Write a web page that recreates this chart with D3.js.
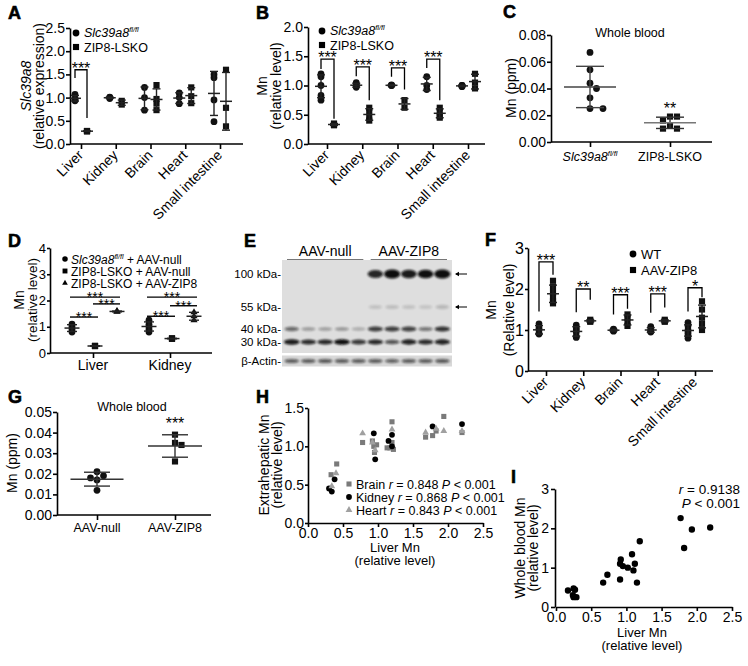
<!DOCTYPE html>
<html><head><meta charset="utf-8">
<script src="https://cdn.jsdelivr.net/npm/d3@7"></script>
<style>body{margin:0;background:#fff}</style>
</head><body><svg id="fig" width="748" height="666"></svg>
<script>
// ---------------- DATA ----------------
const tissues = ["Liver", "Kidney", "Brain", "Heart", "Small intestine"];

// Panel A: Slc39a8 relative expression
const aFlox = [[1.07, 0.97, 0.93, 0.97], [1.0, 0.98, 1.01], [1.22, 1.0, 0.73], [1.1, 1.0, 0.87], [1.5, 1.43, 0.95, 0.48]];
const aLsko = [[0.28, 0.27, 0.28], [0.93, 0.85], [1.27, 0.97, 0.87, 0.73], [1.22, 1.03, 0.88], [1.6, 0.78, 0.38]];
const aSig = [{cat: "Liver", top: 1.6, left: 1.42, right: 0.56, label: "***"}];

// Panel B: Mn relative level
const bFlox = [[1.2, 1.15, 1.0, 0.83, 0.75], [1.05, 1.0, 0.97, 1.0], [1.0, 1.0, 1.01], [1.15, 1.0, 0.93], [1.0, 0.98, 1.0]];
const bLsko = [[0.35, 0.32, 0.33], [0.62, 0.55, 0.45, 0.4], [0.75, 0.62], [0.62, 0.55, 0.48, 0.45], [1.2, 1.05, 0.95]];
const bSig = [
  {cat: "Liver", top: 1.45, left: 1.28, right: 0.43, label: "***"},
  {cat: "Kidney", top: 1.32, left: 1.16, right: 0.75, label: "***"},
  {cat: "Brain", top: 1.30, left: 1.15, right: 0.93, label: "***"},
  {cat: "Heart", top: 1.45, left: 1.30, right: 0.75, label: "***"}
];

// Panel C: whole blood Mn (ppm)
const cGroups = ["Slc39a8", "ZIP8-LSKO"];
const cFlox = [0.067, 0.054, 0.044, 0.040, 0.033, 0.025, 0.025];
const cLsko = [0.019, 0.019, 0.016, 0.012, 0.010, 0.010];

// Panel D
const dTissues = ["Liver", "Kidney"];
const dFloxNull = [[1.1, 1.0, 0.9, 0.8], [1.25, 1.1, 1.0, 0.9, 0.8]];
const dLskoNull = [[0.27, 0.27, 0.26], [0.55, 0.54, 0.56]];
const dLskoZip8 = [[1.58, 1.6, 1.57], [1.55, 1.4, 1.25]];
const dSig = [
  {cat: "Liver", a: 0, b: 2, v: 2.13}, {cat: "Liver", a: 0, b: 1, v: 1.37}, {cat: "Liver", a: 1, b: 2, v: 1.87},
  {cat: "Kidney", a: 0, b: 2, v: 2.13}, {cat: "Kidney", a: 0, b: 1, v: 1.40}, {cat: "Kidney", a: 1, b: 2, v: 1.80}
];

// Panel E: western blot band intensities (10 lanes)
const blotGroups = ["AAV-null", "AAV-ZIP8"];
const blotMarkers = ["100 kDa", "55 kDa", "40 kDa", "30 kDa"];
const band100 = [0, 0, 0, 0, 0, 0.8, 1.0, 0.85, 0.9, 1.0];
const band55 = [0, 0, 0, 0, 0, 0.12, 0.14, 0.12, 0.11, 0.16];
const band40 = [0.5, 0.3, 0.28, 0.32, 0.22, 0.7, 0.7, 0.68, 0.45, 0.75];
const band30 = [0.85, 0.78, 0.8, 0.92, 0.72, 0.8, 0.6, 0.82, 0.78, 0.82];
const bandActin = [0.55, 0.55, 0.57, 0.55, 0.55, 0.55, 0.53, 0.55, 0.55, 0.57];

// Panel F
const fWT = [[1.15, 1.05, 1.0, 0.92, 0.9], [1.12, 1.0, 0.95, 0.85, 0.82, 1.05], [1.02, 1.0, 0.97, 0.99], [1.08, 1.0, 0.95, 0.97], [1.18, 1.1, 1.0, 0.9, 0.8, 0.95]];
const fAAV = [[2.2, 2.05, 1.9, 1.8, 1.7, 1.65], [1.25, 1.2, 1.22], [1.38, 1.3, 1.2, 1.1], [1.25, 1.2, 1.22], [1.7, 1.5, 1.3, 1.15, 1.0]];
const fSig = [
  {cat: "Liver", top: 2.66, left: 1.45, right: 2.35, label: "***"},
  {cat: "Kidney", top: 2.0, left: 1.43, right: 1.74, label: "**"},
  {cat: "Brain", top: 1.86, left: 1.38, right: 1.52, label: "***"},
  {cat: "Heart", top: 1.88, left: 1.42, right: 1.55, label: "***"},
  {cat: "Small intestine", top: 2.03, left: 1.45, right: 1.8, label: "*"}
];

// Panel G
const gGroups = ["AAV-null", "AAV-ZIP8"];
const gNull = [0.021, 0.019, 0.018, 0.017, 0.012];
const gZip8 = [0.039, 0.035, 0.034, 0.026];

// Panel H
const hBrainX = [0.33, 0.41, 0.78, 0.92, 0.94, 0.95, 0.98, 1.13, 1.17, 1.2, 1.2, 1.22, 1.68, 1.78, 1.83, 1.94, 2.2];
const hBrainY = [0.63, 0.77, 1.05, 1.07, 1.0, 0.92, 1.02, 0.98, 0.98, 1.32, 1.05, 0.96, 1.12, 1.14, 1.2, 1.39, 1.18];
const hKidneyX = [0.30, 0.34, 0.38, 0.94, 0.96, 1.15, 1.2, 1.2, 1.78, 2.2];
const hKidneyY = [0.45, 0.41, 0.57, 1.17, 0.83, 1.07, 1.15, 1.0, 1.26, 1.29];
const hHeartX = [0.34, 0.40, 0.78, 0.96, 0.92, 1.2, 1.68, 1.83, 1.94, 2.2];
const hHeartY = [0.48, 0.65, 1.17, 0.95, 1.05, 1.22, 1.18, 1.23, 1.2, 1.2];
const hStats = [["Brain", "0.848"], ["Kidney", "0.868"], ["Heart", "0.843"]];

// Panel I
const iX = [0.17, 0.25, 0.27, 0.24, 0.25, 0.29, 0.67, 0.73, 0.91, 0.92, 0.91, 0.95, 1.02, 1.08, 1.10, 1.12, 1.15, 1.19, 1.77, 1.82, 1.93, 2.19];
const iY = [0.42, 0.47, 0.44, 0.30, 0.25, 0.25, 0.62, 0.82, 0.70, 1.21, 1.10, 1.04, 1.00, 1.34, 0.93, 1.10, 0.62, 1.67, 2.26, 1.50, 1.97, 2.02];
const iStats = ["0.9138", "0.001"];

// ---------------- DRAWING ----------------
const FONT = "'Liberation Sans', Arial, Helvetica, sans-serif";
const svg = d3.select("#fig");
svg.append("rect").attr("width", 748).attr("height", 666).attr("fill", "#fff");
const defs = svg.append("defs");
const blur = defs.append("filter").attr("id", "blur").attr("x", "-50%").attr("y", "-200%").attr("width", "200%").attr("height", "500%");
blur.append("feGaussianBlur").attr("stdDeviation", 1.1);

function txt(parent, x, y, s, o = {}) {
  const t = parent.append("text").attr("x", x).attr("y", y).text(s)
    .attr("font-family", FONT).attr("font-size", o.size || 13).attr("fill", o.fill || "#000")
    .attr("text-anchor", o.anchor || "start");
  if (o.weight) t.attr("font-weight", o.weight);
  if (o.italic) t.attr("font-style", "italic");
  if (o.rotate) t.attr("transform", `rotate(${o.rotate},${x},${y})`);
  return t;
}
function floxText(parent, x, y, suffix, o = {}) {
  const t = txt(parent, x, y, "", o);
  t.append("tspan").attr("font-style", "italic").text("Slc39a8");
  t.append("tspan").attr("font-style", "italic").attr("font-size", (o.size || 13) * 0.6).attr("dy", -5).text("fl/fl");
  if (suffix) t.append("tspan").attr("dy", 5).text(suffix);
  return t;
}
function sym(shape, size) {
  const type = shape === "circle" ? d3.symbolCircle : shape === "square" ? d3.symbolSquare : d3.symbolTriangle;
  return d3.symbol().type(type).size(size)();
}
const symSize = {circle: 36, square: 38, triangle: 22};
function styleAxis(g, fs) {
  g.select(".domain").attr("stroke", "#000").attr("stroke-width", 1.6);
  g.selectAll(".tick line").attr("stroke", "#000").attr("stroke-width", 1.6);
  g.selectAll(".tick text").attr("font-family", FONT).attr("font-size", fs || 14).attr("fill", "#000");
}
function panelLetter(x, y, s) {
  txt(svg, x, y, s, {size: 18, weight: "bold"}).attr("stroke", "#000").attr("stroke-width", 0.6);
}
function swarm(vals, y, cx, r, step) {
  const placed = [];
  vals.slice().sort((a, b) => b - a).forEach(v => {
    const py = y(v);
    for (const dx of [0, step, -step, 2 * step, -2 * step]) {
      const px = cx + dx;
      if (placed.every(p => Math.hypot(p[0] - px, p[1] - py) >= 2 * r)) { placed.push([px, py]); break; }
    }
  });
  return placed;
}
function errorBar(g, cx, y, vals, meanW, cap, color, meanColor) {
  const m = d3.mean(vals), sd = d3.deviation(vals) || 0;
  g.append("line").attr("x1", cx).attr("x2", cx).attr("y1", y(m - sd)).attr("y2", y(m + sd)).attr("stroke", color).attr("stroke-width", 1.4);
  [m - sd, m + sd].forEach(v => g.append("line").attr("x1", cx - cap).attr("x2", cx + cap).attr("y1", y(v)).attr("y2", y(v)).attr("stroke", color).attr("stroke-width", 1.4));
  g.append("line").attr("x1", cx - meanW).attr("x2", cx + meanW).attr("y1", y(m)).attr("y2", y(m)).attr("stroke", meanColor || color).attr("stroke-width", 1.5);
  return {m, sd};
}

function dotPanel(c) {
  const g = svg.append("g");
  const y = d3.scaleLinear().domain(c.domain).range([c.yBot, c.yTop]);
  const x = d3.scalePoint().domain(c.cats).range(c.catRange);
  g.append("g").attr("transform", `translate(${c.x0},0)`)
    .call(d3.axisLeft(y).tickValues(c.ticks).tickFormat(d3.format(c.fmt)).tickSize(c.tickLen || 4).tickSizeOuter(0).tickPadding(1))
    .call(a => styleAxis(a, c.tickFs));
  const xa = g.append("g").attr("transform", `translate(0,${c.yBot})`)
    .call(d3.axisBottom(x).tickSize(5).tickSizeOuter(0).tickFormat(""))
    .call(a => styleAxis(a));
  xa.select(".domain").remove();
  g.append("line").attr("x1", c.x0).attr("x2", c.x1).attr("y1", c.yBot).attr("y2", c.yBot)
    .attr("stroke", "#000").attr("stroke-width", 1.6);
  if (c.rotate) {
    c.cats.forEach(cat => txt(g, x(cat) + 3, c.yBot + 12, cat, {anchor: "end", rotate: -45, size: 14}));
  } else if (c.labelFn) {
    c.cats.forEach(cat => c.labelFn(g, x(cat), c.yBot + 19, cat));
  }
  c.groups.forEach(gr => {
    gr.data.forEach((vals, i) => {
      if (!vals.length) return;
      const cx = x(c.cats[i]) + gr.dx;
      const pts = c.swarm ? swarm(vals, y, cx, 3.3, c.swarm) : vals.map(v => [cx, y(v)]);
      g.selectAll(null).data(pts).join("path")
        .attr("d", sym(gr.shape, symSize[gr.shape]))
        .attr("transform", p => `translate(${p[0]},${p[1]})`).attr("fill", "#111");
      errorBar(g, cx, y, vals, c.meanW, c.cap, c.errColor || "#222");
    });
  });
  (c.brackets || []).forEach(b => {
    const xl = x(b.cat) + c.groups[0].dx, xr = x(b.cat) + c.groups[1].dx;
    g.append("path").attr("d", `M${xl},${y(b.left)}V${y(b.top)}H${xr}V${y(b.right)}`)
      .attr("fill", "none").attr("stroke", "#000").attr("stroke-width", 1.3);
    txt(g, (xl + xr) / 2, y(b.top) + 4, b.label, {anchor: "middle", size: 16});
  });
  return {g, x, y};
}

// ---- Panel A ----
panelLetter(8, 19, "A");
const A = dotPanel({x0: 70, x1: 243, yTop: 28, yBot: 144, domain: [0, 2.5], ticks: [0, 0.5, 1, 1.5, 2, 2.5], fmt: ".1f",
  cats: tissues, catRange: [81, 220], rotate: true, meanW: 6, cap: 4,
  groups: [{data: aFlox, shape: "circle", dx: -6}, {data: aLsko, shape: "square", dx: 6}], brackets: aSig});
txt(svg, 31, 86, "", {anchor: "middle", rotate: -90, size: 14}).append("tspan").attr("font-style", "italic").text("Slc39a8");
txt(svg, 44, 86, "(relative expression)", {anchor: "middle", rotate: -90, size: 14});
A.g.append("path").attr("d", sym("circle", 36)).attr("transform", "translate(76,33)");
floxText(A.g, 84, 37, null, {size: 12.5});
A.g.append("path").attr("d", sym("square", 38)).attr("transform", "translate(76,47)");
txt(A.g, 84, 52, "ZIP8-LSKO", {size: 12.5});

// ---- Panel B ----
panelLetter(256, 19, "B");
const B = dotPanel({x0: 308, x1: 485, yTop: 27, yBot: 144, domain: [0, 2], ticks: [0, 0.5, 1, 1.5, 2], fmt: ".1f",
  cats: tissues, catRange: [327, 468], rotate: true, meanW: 6, cap: 4,
  groups: [{data: bFlox, shape: "circle", dx: -6}, {data: bLsko, shape: "square", dx: 7}], brackets: bSig});
txt(svg, 267, 86, "Mn", {anchor: "middle", rotate: -90, size: 14});
txt(svg, 281, 86, "(relative level)", {anchor: "middle", rotate: -90, size: 14});
B.g.append("path").attr("d", sym("circle", 36)).attr("transform", "translate(322,31)");
floxText(B.g, 330, 35, null, {size: 12.5});
B.g.append("path").attr("d", sym("square", 38)).attr("transform", "translate(322,45)");
txt(B.g, 330, 50, "ZIP8-LSKO", {size: 12.5});

// ---- Panel C ----
panelLetter(503, 18, "C");
const C = dotPanel({x0: 551, x1: 712, yTop: 35, yBot: 142, domain: [0, 0.08], ticks: [0, 0.02, 0.04, 0.06, 0.08], fmt: ".2f",
  cats: cGroups, catRange: [590, 670], meanW: 26, cap: 14, swarm: 6.5, errColor: "#444",
  labelFn: (g, x, y, cat) => cat === "Slc39a8" ? floxText(g, x, y, null, {anchor: "middle", size: 12.5}) : txt(g, x, y, cat, {anchor: "middle", size: 12.5}),
  groups: [{data: [cFlox, []], shape: "circle", dx: 0}]});
(function () {
  const cx = C.x("ZIP8-LSKO");
  const pts = swarm(cLsko, C.y, cx, 3.3, 7);
  C.g.selectAll(null).data(pts).join("path").attr("d", sym("square", 38)).attr("transform", p => `translate(${p[0]},${p[1]})`).attr("fill", "#111");
  const s = errorBar(C.g, cx, C.y, cLsko, 26, 14, "#333", "#777");
  txt(C.g, cx, C.y(s.m + s.sd) - 3, "**", {anchor: "middle", size: 16});
})();
txt(svg, 630, 37, "Whole blood", {anchor: "middle", size: 12.5});
txt(svg, 516, 88, "Mn (ppm)", {anchor: "middle", rotate: -90, size: 14});

// ---- Panel D ----
panelLetter(8, 247, "D");
const D = dotPanel({x0: 50, x1: 212, yTop: 248, yBot: 353, domain: [0, 4], ticks: [0, 1, 2, 3, 4], fmt: "d", tickFs: 13, tickLen: 3,
  cats: dTissues, catRange: [93, 170], meanW: 7.5, cap: 5,
  labelFn: (g, x, y, cat) => txt(g, x, y - 2, cat, {anchor: "middle", size: 14}),
  groups: [{data: dFloxNull, shape: "circle", dx: -21}, {data: dLskoNull, shape: "square", dx: 2}, {data: dLskoZip8, shape: "triangle", dx: 24}]});
(function () {
  const dxs = [-21, 2, 24];
  dSig.forEach(s => {
    const xa = D.x(s.cat) + dxs[s.a] - 2, xb = D.x(s.cat) + dxs[s.b] + 3;
    D.g.append("line").attr("x1", xa).attr("x2", xb).attr("y1", D.y(s.v)).attr("y2", D.y(s.v)).attr("stroke", "#000").attr("stroke-width", 1.4);
    txt(D.g, (xa + xb) / 2, D.y(s.v) + 5, "***", {anchor: "middle", size: 14});
  });
  const items = [["circle", null], ["square", "ZIP8-LSKO + AAV-null"], ["triangle", "ZIP8-LSKO + AAV-ZIP8"]];
  items.forEach((it, i) => {
    const yy = 259 + i * 12;
    D.g.append("path").attr("d", sym(it[0], it[0] === "triangle" ? 14 : 24)).attr("transform", `translate(65,${yy})`);
    if (it[1]) txt(D.g, 71, yy + 4.5, it[1], {size: 12});
    else floxText(D.g, 71, yy + 4.5, " + AAV-null", {size: 12});
  });
})();
txt(svg, 24, 300, "Mn", {anchor: "middle", rotate: -90, size: 14});
txt(svg, 37, 300, "(relative level)", {anchor: "middle", rotate: -90, size: 13.5});

// ---- Panel E (western blot) ----
panelLetter(244, 247, "E");
(function () {
  const g = svg.append("g");
  const lane = d3.scaleBand().domain(d3.range(10)).range([284, 450]).paddingInner(0.08);
  const bx0 = 282, bx1 = 452;
  g.append("rect").attr("x", bx0).attr("y", 260).attr("width", bx1 - bx0).attr("height", 93).attr("fill", "#dedede");
  g.append("rect").attr("x", bx0).attr("y", 355.5).attr("width", bx1 - bx0).attr("height", 11).attr("fill", "#d8d8d8");
  const rows = [
    {vals: band100, y: 274, h: 7, label: blotMarkers[0]},
    {vals: band55, y: 307, h: 6, label: blotMarkers[1]},
    {vals: band40, y: 329, h: 4.5, label: blotMarkers[2]},
    {vals: band30, y: 342, h: 4.5, label: blotMarkers[3]},
    {vals: bandActin, y: 361, h: 4, label: "β-Actin"}
  ];
  rows.forEach(r => {
    r.vals.forEach((v, i) => {
      if (v <= 0) return;
      g.append("ellipse").attr("cx", lane(i) + lane.bandwidth() / 2).attr("cy", r.y)
        .attr("rx", lane.bandwidth() / 2 * (0.85 + 0.2 * v)).attr("ry", r.h / 2 * (0.6 + 0.7 * v))
        .attr("fill", "#0a0a0a").attr("opacity", Math.min(1, 1.1 * v)).attr("filter", "url(#blur)");
    });
    txt(g, 281, r.y + 4, r.label + "-", {anchor: "end", size: 11.5});
  });
  const halves = [[0, 4], [5, 9]];
  blotGroups.forEach((name, k) => {
    const xa = lane(halves[k][0]) + 3, xb = lane(halves[k][1]) + lane.bandwidth() - 3;
    txt(g, (xa + xb) / 2, 256, name, {anchor: "middle", size: 14});
    g.append("line").attr("x1", xa).attr("x2", xb).attr("y1", 259.5).attr("y2", 259.5).attr("stroke", "#777").attr("stroke-width", 1.2);
  });
  [274, 307].forEach(yy => {
    g.append("line").attr("x1", 456).attr("x2", 467).attr("y1", yy).attr("y2", yy).attr("stroke", "#000").attr("stroke-width", 1);
    g.append("path").attr("d", `M455,${yy}l4,-2.2v4.4z`).attr("fill", "#000");
  });
})();

// ---- Panel F ----
panelLetter(485, 246, "F");
const F = dotPanel({x0: 528, x1: 713, yTop: 248, yBot: 371, domain: [0, 3], ticks: [0, 1, 2, 3], fmt: "d", tickLen: 3,
  cats: tissues, catRange: [546, 695], rotate: true, meanW: 6, cap: 4, tickFs: 16,
  groups: [{data: fWT, shape: "circle", dx: -7}, {data: fAAV, shape: "square", dx: 7}], brackets: fSig});
txt(svg, 496, 310, "Mn", {anchor: "middle", rotate: -90, size: 14});
txt(svg, 514, 310, "(Relative level)", {anchor: "middle", rotate: -90, size: 14});
F.g.append("path").attr("d", sym("circle", 36)).attr("transform", "translate(633,254)");
txt(F.g, 641, 259, "WT", {size: 13});
F.g.append("path").attr("d", sym("square", 38)).attr("transform", "translate(633,270)");
txt(F.g, 641, 275, "AAV-ZIP8", {size: 13});

// ---- Panel G ----
panelLetter(8, 403, "G");
const G = dotPanel({x0: 57, x1: 211, yTop: 412, yBot: 515, domain: [0, 0.05], ticks: [0, 0.01, 0.02, 0.03, 0.04, 0.05], fmt: ".2f",
  cats: gGroups, catRange: [97, 175], meanW: 26.5, cap: 13, swarm: 6.5, errColor: "#333",
  labelFn: (g, x, y, cat) => txt(g, x, y - 2, cat, {anchor: "middle", size: 12.5}),
  groups: [{data: [gNull, []], shape: "circle", dx: 0}]});
(function () {
  const cx = G.x("AAV-ZIP8");
  const pts = swarm(gZip8, G.y, cx, 3.3, 6.5);
  G.g.selectAll(null).data(pts).join("path").attr("d", sym("square", 38)).attr("transform", p => `translate(${p[0]},${p[1]})`).attr("fill", "#111");
  const s = errorBar(G.g, cx, G.y, gZip8, 27, 13, "#333");
  txt(G.g, cx, G.y(s.m + s.sd) - 6, "***", {anchor: "middle", size: 16});
})();
txt(svg, 132, 411, "Whole blood", {anchor: "middle", size: 12.5});
txt(svg, 17, 463, "Mn (ppm)", {anchor: "middle", rotate: -90, size: 14});

// ---- Panel H ----
panelLetter(256, 403, "H");
(function () {
  const g = svg.append("g");
  const x = d3.scaleLinear().domain([0, 2.5]).range([308, 483]);
  const y = d3.scaleLinear().domain([0, 1.5]).range([523, 408]);
  g.append("g").attr("transform", "translate(308,0)").call(d3.axisLeft(y).tickValues([0, 0.5, 1, 1.5]).tickFormat(d3.format(".1f")).tickSize(3).tickSizeOuter(0).tickPadding(1)).call(a => styleAxis(a, 14));
  g.append("g").attr("transform", "translate(0,523)").call(d3.axisBottom(x).tickValues([0, 0.5, 1, 1.5, 2, 2.5]).tickFormat(d3.format(".1f")).tickSize(4).tickSizeOuter(0).tickPadding(1)).call(a => styleAxis(a, 14));
  const series = [
    {xs: hBrainX, ys: hBrainY, shape: "square", size: 26, fill: "#7a7a7a"},
    {xs: hKidneyX, ys: hKidneyY, shape: "circle", size: 26, fill: "#000"},
    {xs: hHeartX, ys: hHeartY, shape: "triangle", size: 20, fill: "#a0a0a0"}
  ];
  series.forEach(s => {
    g.selectAll(null).data(s.xs.map((v, i) => [v, s.ys[i]])).join("path")
      .attr("d", sym(s.shape, s.size)).attr("transform", d => `translate(${x(d[0])},${y(d[1])})`).attr("fill", s.fill);
  });
  hStats.forEach((st, i) => {
    const yy = 484 + i * 13;
    g.append("path").attr("d", sym(series[i].shape, series[i].size)).attr("fill", series[i].fill).attr("transform", `translate(349,${yy})`);
    const t = txt(g, 356, yy + 4.5, st[0] + " ", {size: 12.5});
    t.append("tspan").attr("font-style", "italic").text("r");
    t.append("tspan").text(" = " + st[1] + " ");
    t.append("tspan").attr("font-style", "italic").text("P");
    t.append("tspan").text(" < 0.001");
  });
  txt(g, 395, 552, "Liver Mn", {anchor: "middle", size: 13});
  txt(g, 395, 565, "(relative level)", {anchor: "middle", size: 13});
  txt(g, 269, 465, "Extrahepatic Mn", {anchor: "middle", rotate: -90, size: 14});
  txt(g, 282, 465, "(relative level)", {anchor: "middle", rotate: -90, size: 14});
})();

// ---- Panel I ----
panelLetter(511, 483, "I");
(function () {
  const g = svg.append("g");
  const x = d3.scaleLinear().domain([0, 2.5]).range([556, 732]);
  const y = d3.scaleLinear().domain([0, 3]).range([607, 489]);
  g.append("g").attr("transform", "translate(555,0)").call(d3.axisLeft(y).tickValues([0, 1, 2, 3]).tickFormat(d3.format("d")).tickSize(4).tickSizeOuter(0).tickPadding(2)).call(a => styleAxis(a, 14));
  g.append("g").attr("transform", "translate(0,607)").call(d3.axisBottom(x).tickValues([0, 0.5, 1, 1.5, 2, 2.5]).tickFormat(d3.format(".1f")).tickSize(4).tickSizeOuter(0).tickPadding(1)).call(a => styleAxis(a, 14));
  g.selectAll(null).data(iX.map((v, i) => [v, iY[i]])).join("path")
    .attr("d", sym("circle", 32)).attr("transform", d => `translate(${x(d[0])},${y(d[1])})`).attr("fill", "#000");
  const t1 = txt(g, 740, 494, "", {anchor: "end", size: 13.5});
  t1.append("tspan").attr("font-style", "italic").text("r");
  t1.append("tspan").text(" = " + iStats[0]);
  const t2 = txt(g, 740, 508, "", {anchor: "end", size: 13.5});
  t2.append("tspan").attr("font-style", "italic").text("P");
  t2.append("tspan").text(" < " + iStats[1]);
  txt(g, 642, 637, "Liver Mn", {anchor: "middle", size: 13});
  txt(g, 642, 650, "(relative level)", {anchor: "middle", size: 13});
  txt(g, 525, 548, "Whole blood Mn", {anchor: "middle", rotate: -90, size: 14});
  txt(g, 538, 548, "(relative level)", {anchor: "middle", rotate: -90, size: 14});
})();
</script></body></html>
